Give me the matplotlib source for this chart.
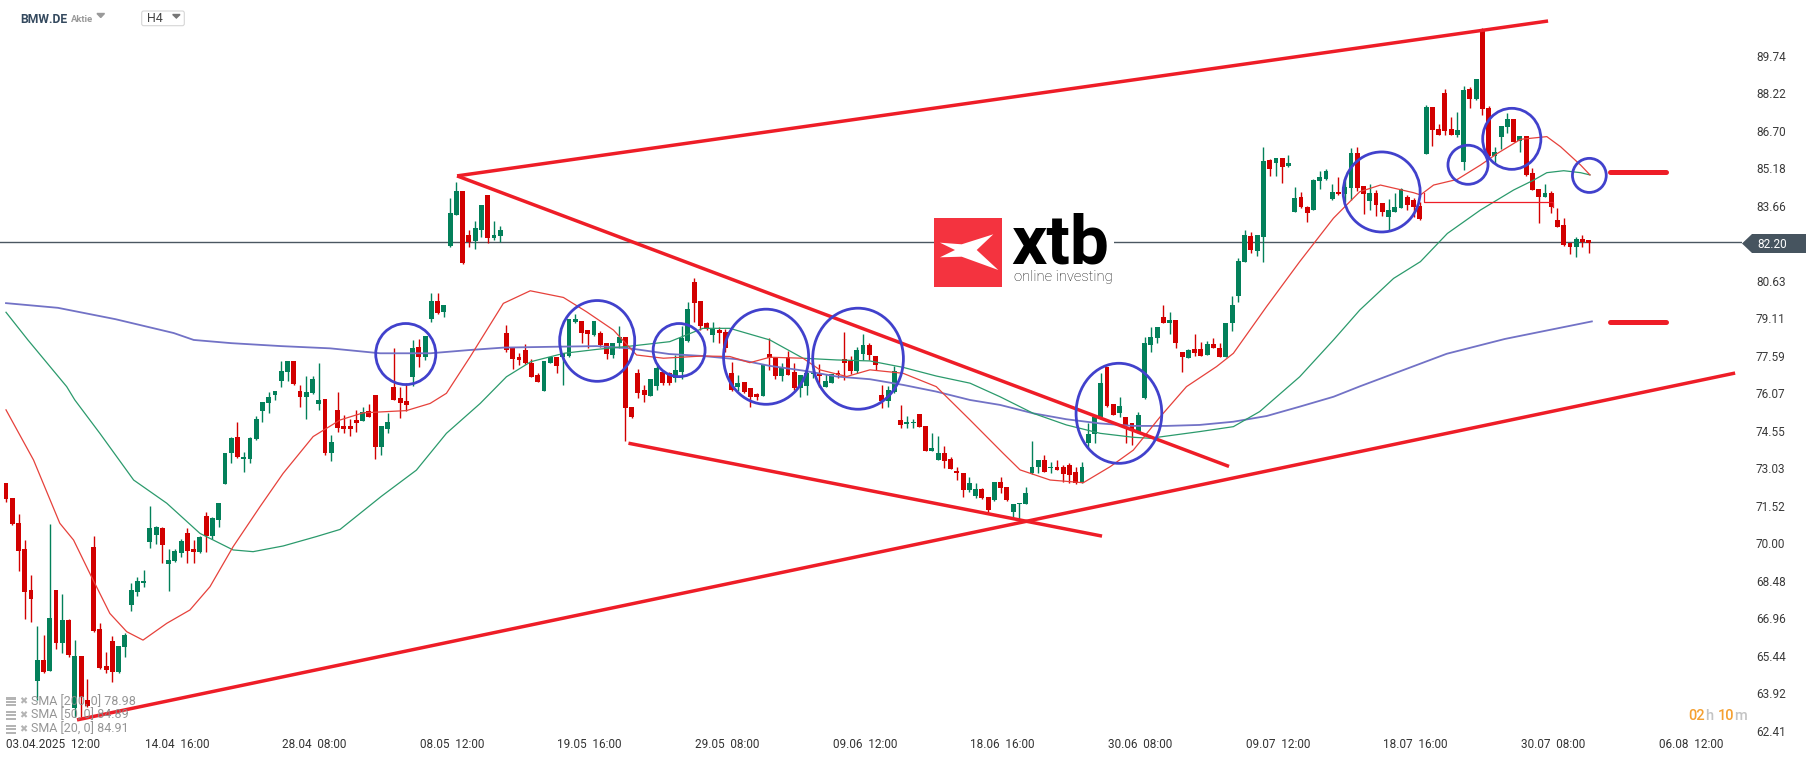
import matplotlib.pyplot as plt
import matplotlib.transforms as mtransforms
from matplotlib.patches import Ellipse, Polygon, Rectangle, FancyBboxPatch
import numpy as np

plt.rcParams['font.family'] = ['Roboto', 'DejaVu Sans']

# ---- candle data (H4 bars, BMW.DE) ----
opens = [
    72.43, 71.83, 70.84, 69.77, 68.11, 64.44, 65.27, 64.84, 68.11, 65.95,
    66.89, 63.32, 65.44, 63.66, 69.86, 66.53, 65.03, 66.04, 64.80, 65.79,
    67.50, 68.04, 68.38, 70.04, 70.33, 70.61, 69.15, 69.30, 69.62, 70.43,
    69.77, 69.65, 71.10, 70.30, 70.94, 72.40, 73.64, 74.29, 73.40, 73.43,
    74.21, 75.37, 75.67, 76.01, 76.58, 76.95, 77.39, 76.18, 75.91, 76.07,
    75.63, 75.84, 73.67, 75.40, 74.74, 74.74, 74.99, 74.96, 75.34, 76.00,
    73.91, 74.64, 76.31, 75.87, 75.76, 76.72, 77.93, 77.53, 79.06, 79.81,
    79.37, 82.03, 83.29, 84.26, 82.48, 82.25, 82.68, 84.10, 82.37, 82.44,
    78.50, 77.89, 77.53, 77.82, 77.28, 76.81, 76.18, 77.31, 77.53, 77.55,
    77.58, 78.97, 79.01, 78.63, 78.43, 78.50, 78.09, 77.62, 78.09, 78.36,
    75.50, 76.88, 76.20, 75.96, 76.37, 76.95, 76.91, 76.68, 76.95, 78.19,
    80.59, 79.81, 78.93, 78.43, 78.64, 78.56, 76.88, 76.31, 76.54, 76.27,
    76.04, 75.96, 77.66, 77.49, 76.77, 77.53, 76.95, 76.27, 76.37, 76.84,
    76.88, 76.34, 76.50, 76.88, 77.45, 77.39, 76.99, 77.66, 78.03, 77.58,
    76.00, 75.77, 76.14, 74.99, 74.83, 74.86, 75.23, 74.75, 73.75, 73.37,
    73.64, 73.40, 72.94, 72.86, 72.16, 71.91, 72.18, 71.86, 71.75, 72.50,
    72.29, 71.28, 71.57, 71.59, 72.83, 73.07, 73.37, 73.03, 73.10, 73.07,
    73.16, 72.90, 72.43, 74.04, 74.42, 75.10, 77.15, 75.64, 75.26, 75.12,
    74.85, 74.52, 75.87, 78.03, 78.30, 79.15, 78.93, 79.04, 77.76, 77.49,
    77.85, 77.85, 77.62, 78.07, 77.89, 77.55, 78.90, 80.01, 81.40, 82.44,
    81.84, 82.41, 85.52, 85.38, 85.58, 85.27, 83.42, 84.00, 83.60, 83.49,
    84.68, 84.73, 83.92, 84.23, 84.14, 84.36, 85.81, 84.46, 83.87, 84.16,
    83.76, 83.22, 83.42, 83.56, 84.03, 83.89, 83.65, 85.76, 87.64, 86.75,
    88.21, 86.75, 86.52, 85.45, 88.37, 87.97, 90.75, 87.60, 85.67, 86.43,
    86.86, 87.17, 86.30, 86.48, 84.97, 84.33, 84.03, 84.16, 83.08, 82.88,
    82.14, 82.00, 82.30, 82.27]
highs = [
    72.43, 71.85, 71.19, 70.13, 68.70, 66.65, 66.29, 70.78, 68.11, 67.95,
    66.92, 66.08, 65.44, 64.49, 70.29, 66.76, 65.60, 66.25, 65.84, 66.35,
    68.41, 68.62, 68.92, 71.51, 70.70, 70.65, 69.75, 69.75, 70.16, 70.61,
    70.13, 70.30, 71.28, 71.05, 71.62, 73.64, 74.32, 74.92, 73.71, 74.32,
    75.15, 75.72, 76.14, 76.16, 77.39, 77.39, 77.39, 76.41, 76.77, 76.77,
    77.31, 75.84, 74.38, 76.14, 75.19, 75.05, 75.39, 75.50, 75.64, 76.00,
    74.74, 75.26, 77.89, 76.31, 76.47, 78.23, 78.26, 78.39, 80.12, 80.12,
    79.64, 83.96, 84.64, 84.26, 82.68, 83.06, 83.69, 84.10, 83.06, 82.84,
    78.83, 77.89, 77.71, 78.07, 77.44, 76.91, 77.38, 77.55, 77.53, 77.71,
    79.06, 79.28, 79.01, 78.63, 79.01, 78.61, 78.09, 78.09, 78.79, 78.36,
    75.50, 77.04, 76.41, 76.64, 77.28, 77.01, 76.95, 77.62, 78.80, 79.78,
    80.75, 79.81, 78.97, 78.97, 78.77, 78.66, 77.35, 76.81, 76.54, 76.27,
    76.07, 77.22, 78.30, 77.53, 77.28, 77.80, 77.31, 76.81, 76.99, 77.10,
    77.26, 76.85, 76.84, 77.02, 78.57, 77.58, 77.96, 78.47, 78.12, 77.58,
    76.41, 76.37, 77.18, 75.60, 75.15, 75.02, 75.23, 74.75, 74.45, 74.34,
    73.94, 73.51, 73.10, 72.86, 72.70, 72.43, 72.22, 71.86, 72.50, 72.70,
    72.29, 71.59, 71.62, 72.26, 74.15, 73.37, 73.57, 73.30, 73.37, 73.16,
    73.23, 73.10, 73.30, 74.85, 75.10, 76.88, 77.15, 75.64, 75.93, 75.12,
    74.85, 75.33, 78.36, 78.74, 78.74, 79.64, 79.38, 79.04, 77.76, 77.85,
    78.47, 78.16, 78.20, 78.30, 78.09, 78.93, 80.01, 81.53, 82.66, 82.61,
    82.48, 86.06, 85.54, 85.58, 85.58, 85.72, 84.41, 84.23, 83.65, 84.73,
    85.08, 85.14, 84.54, 84.84, 84.87, 85.98, 86.02, 84.46, 84.54, 84.30,
    83.76, 83.92, 84.19, 84.36, 84.09, 83.96, 83.82, 87.74, 87.64, 86.97,
    88.37, 87.24, 87.47, 88.51, 88.45, 88.78, 90.84, 87.70, 86.05, 86.89,
    87.40, 87.17, 86.48, 86.48, 85.18, 84.33, 84.54, 84.27, 83.56, 83.15,
    82.14, 82.38, 82.48, 82.27]
lows = [
    71.68, 70.74, 68.89, 66.92, 66.83, 63.66, 64.73, 64.84, 65.71, 65.54,
    65.41, 62.98, 62.98, 63.39, 66.42, 64.90, 64.73, 64.40, 64.76, 65.41,
    67.27, 67.87, 68.22, 69.80, 69.97, 69.22, 68.08, 69.26, 69.46, 69.19,
    69.19, 69.62, 69.65, 70.19, 70.65, 72.40, 73.24, 73.44, 72.90, 73.26,
    74.18, 74.92, 75.29, 75.80, 76.31, 76.58, 76.41, 75.53, 75.02, 76.04,
    75.40, 73.57, 73.35, 74.52, 74.48, 74.34, 74.52, 74.96, 75.12, 73.40,
    73.57, 74.48, 75.80, 75.06, 75.37, 76.37, 77.15, 77.42, 78.97, 79.28,
    79.17, 81.98, 83.29, 81.30, 82.01, 81.90, 82.41, 82.17, 82.28, 82.21,
    77.76, 77.04, 77.22, 77.26, 76.72, 76.54, 76.18, 77.28, 76.91, 76.41,
    77.55, 78.90, 78.09, 77.89, 78.39, 77.96, 77.44, 77.49, 77.89, 74.15,
    75.06, 75.87, 75.73, 75.96, 76.20, 76.41, 76.41, 76.54, 76.64, 78.16,
    78.97, 78.64, 78.64, 78.16, 78.10, 77.76, 76.18, 76.18, 76.07, 75.53,
    75.80, 75.96, 77.02, 76.64, 76.58, 76.81, 76.21, 75.91, 76.00, 76.70,
    76.34, 76.34, 76.48, 76.68, 76.61, 76.85, 76.91, 77.42, 77.42, 77.02,
    75.46, 75.53, 76.10, 74.65, 74.65, 74.65, 74.69, 73.75, 73.75, 73.37,
    73.03, 72.99, 72.56, 71.89, 72.09, 71.82, 71.78, 71.28, 71.72, 72.02,
    71.72, 70.97, 70.94, 71.59, 72.80, 72.83, 72.90, 72.83, 72.97, 72.49,
    72.45, 72.40, 72.43, 73.84, 74.04, 75.02, 75.53, 75.19, 75.10, 74.07,
    73.98, 74.45, 75.83, 77.76, 78.09, 78.90, 78.47, 77.89, 76.95, 77.49,
    77.58, 77.58, 77.62, 77.89, 77.55, 77.55, 78.61, 79.78, 81.40, 81.74,
    81.63, 81.40, 84.87, 84.87, 84.57, 85.22, 83.42, 83.56, 83.02, 83.49,
    84.33, 84.71, 83.90, 84.10, 83.83, 83.89, 84.27, 83.33, 83.49, 83.24,
    83.24, 82.65, 83.42, 83.56, 83.49, 83.22, 83.08, 85.76, 86.08, 86.52,
    86.52, 86.52, 86.43, 85.11, 87.60, 87.94, 87.33, 85.65, 85.38, 85.94,
    86.62, 86.25, 85.85, 84.87, 84.30, 82.98, 84.00, 83.38, 82.81, 82.03,
    81.71, 81.57, 81.98, 81.73]
closes = [
    71.78, 70.78, 69.70, 68.04, 67.76, 65.27, 64.80, 66.99, 65.95, 66.89,
    65.48, 65.44, 63.79, 63.41, 66.46, 64.96, 64.87, 64.80, 65.84, 66.27,
    68.11, 68.46, 68.49, 70.61, 70.65, 69.94, 69.32, 69.70, 70.11, 69.70,
    69.65, 70.27, 70.30, 71.02, 71.62, 73.64, 74.25, 73.51, 73.51, 74.25,
    75.03, 75.72, 75.91, 76.16, 76.97, 77.39, 76.44, 75.91, 76.14, 76.64,
    75.80, 73.67, 74.11, 74.65, 74.64, 74.64, 74.88, 75.33, 75.12, 73.91,
    74.74, 74.91, 75.80, 75.69, 75.60, 77.89, 77.55, 78.39, 79.81, 79.33,
    79.64, 83.36, 84.26, 81.36, 82.21, 82.75, 83.69, 82.37, 82.48, 82.68,
    77.82, 77.44, 77.42, 77.28, 76.74, 76.54, 77.38, 77.55, 77.18, 77.71,
    79.06, 79.09, 78.52, 78.46, 79.01, 78.02, 77.66, 78.09, 78.36, 75.46,
    75.12, 76.10, 76.00, 76.64, 77.08, 76.47, 76.47, 77.01, 78.30, 79.47,
    79.74, 78.80, 78.66, 78.66, 78.53, 77.90, 76.21, 76.48, 76.14, 75.94,
    75.91, 77.22, 77.49, 76.77, 77.12, 76.81, 76.27, 76.81, 76.88, 76.92,
    76.77, 76.58, 76.84, 76.80, 77.31, 76.99, 77.83, 78.03, 77.62, 77.22,
    75.77, 76.21, 76.99, 74.79, 74.92, 74.92, 74.72, 73.75, 73.85, 73.64,
    73.35, 72.99, 72.83, 72.16, 72.43, 72.18, 71.82, 71.35, 72.50, 72.22,
    71.75, 71.59, 71.62, 72.02, 73.07, 73.37, 72.90, 73.10, 72.97, 72.80,
    72.76, 72.43, 73.10, 74.42, 75.10, 76.47, 75.56, 75.19, 75.56, 74.79,
    74.58, 75.19, 78.09, 78.34, 78.74, 78.90, 79.04, 78.12, 77.53, 77.82,
    77.72, 77.58, 78.07, 77.89, 77.55, 78.93, 79.64, 81.44, 82.48, 81.87,
    82.48, 85.49, 85.14, 85.58, 85.25, 85.38, 83.96, 83.60, 83.36, 84.71,
    84.81, 85.08, 84.23, 84.14, 84.41, 85.81, 84.36, 84.13, 84.16, 83.69,
    83.42, 83.49, 83.62, 84.32, 83.69, 83.62, 83.11, 87.67, 86.73, 86.52,
    86.70, 86.52, 86.73, 88.35, 87.97, 88.78, 87.56, 85.67, 85.82, 86.89,
    87.17, 86.25, 86.48, 84.91, 84.30, 84.03, 84.16, 83.60, 82.81, 82.07,
    82.00, 82.30, 82.20, 82.17]

# ---- moving averages (bar index, value) ----
sma20_idx = [0, 4.4, 8.6, 10.8, 13.4, 16.6, 19.3, 21.9, 25.7, 29.4,
             32.6, 36.3, 40.6, 44.3, 49.1, 53.4, 57.1, 64, 67.8, 70.4,
             74.2, 79.5, 83.8, 89.1, 92.8, 97.1, 100.8, 105.1, 111.4, 115.7,
             118.9, 122.1, 127.4, 130.1, 134.4, 138.1, 143.4, 148.7, 154.1, 159.4,
             162.1, 166.9, 172.2, 176.5, 180.2, 184.5, 188.7, 193.5, 196.2, 201.5,
             206.8, 212.2, 216.4, 219.7, 225, 226.1, 228.2, 232, 235.7, 238.4,
             242.1, 246.3, 248.5, 251.7, 253.2]
sma20_val = [75.40, 73.37, 70.81, 70.13, 68.78, 67.16, 66.42, 66.08, 66.76, 67.30,
             68.24, 69.86, 71.48, 72.83, 74.32, 74.99, 75.28, 75.37, 75.66, 76.07,
             77.55, 79.71, 80.22, 79.95, 79.37, 78.63, 77.62, 77.49, 77.58, 77.56,
             77.31, 77.53, 77.49, 77.02, 76.75, 77.02, 76.88, 76.34, 74.99, 73.64,
             72.97, 72.56, 72.45, 73.10, 73.77, 75.12, 76.34, 77.15, 77.69, 79.58,
             81.40, 83.16, 84.23, 84.50, 84.19, 84.10, 84.50, 84.73, 85.31, 85.78,
             86.35, 86.46, 86.05, 85.31, 84.91]

sma50_idx = [0, 3.5, 9.7, 11, 15, 20.4, 25.7, 31, 36.3,
             39.5, 44.3, 49.6, 53.4, 60, 65.6, 70.4, 75.8, 80, 83.9,
             89.2, 94.5, 99.8, 106.1, 111.4, 115.7, 122.1, 127.4, 132.8, 138.1,
             143.4, 148.7, 154.1, 158.9, 164.2, 169.5, 174.9, 180.2, 182.9, 190.8,
             196.2, 200.4, 206.8, 212.2, 216.4, 221.8, 226.1, 230.4, 235.7, 241,
             244.2, 246.3, 249, 251.7, 253.2]
sma50_val = [79.35, 78.23, 76.34, 75.80, 74.45, 72.56, 71.62, 70.40, 69.73,
             69.66, 69.89, 70.27, 70.56, 71.9, 72.96, 74.45, 75.66, 76.74, 77.35,
             77.69, 77.85, 77.98, 78.16, 78.70, 78.70, 78.23, 77.49, 77.42, 77.38,
             77.12, 76.77, 76.48, 75.93, 75.26, 74.79, 74.45, 74.29, 74.25, 74.52,
             74.72, 75.33, 76.74, 78.23, 79.44, 80.72, 81.40, 82.54, 83.49, 84.30,
             84.70, 85.00, 85.08, 85.00, 84.91]

sma200_idx = [0, 8.3, 17.5, 26.8, 30, 36, 44, 51.8, 59.8, 67.8,
              74, 79.5, 89, 94.4, 99.7, 106, 111.4, 116.8, 122.1, 127.4,
              132.8, 138.1, 143.4, 148.7, 154.1, 158.9, 164.2, 169.5, 174.9, 180.2,
              185.5, 190.8, 196.2, 201.5, 206.8, 212.2, 216.4, 230.3, 239.6, 253.5]
sma200_val = [79.72, 79.53, 79.07, 78.51, 78.23, 78.10, 77.98, 77.89, 77.69, 77.69,
              77.82, 77.92, 77.96, 77.98, 77.89, 77.66, 77.58, 77.45, 77.18, 76.99,
              76.75, 76.64, 76.41, 76.14, 75.80, 75.60, 75.26, 75.02, 74.85, 74.75,
              74.75, 74.79, 74.92, 75.15, 75.53, 75.93, 76.35, 77.67, 78.27, 78.98]

# ---- drawings on the chart: ((idx0, price0), (idx1, price1)) ----
trend_lines = [
    ((72.1, 84.87), (246.5, 91.14)),
    ((72.1, 84.87), (195.5, 73.11)),
    ((99.5, 74.05), (175.2, 70.29)),
    ((11.35, 62.85), (276.4, 76.89)),
]
level_lines = [((256.4, 85.02), (265.4, 85.02)), ((256.4, 78.96), (265.4, 78.96))]
bracket_idx = [226.6, 226.6, 247.3, 247.3]
bracket_val = [84.16, 83.80, 83.80, 83.62]
# (center idx, center price, width in bars, height in price)
circles = [
    (63.9, 77.66, 9.6, 2.47), (94.5, 78.19, 12.0, 3.27), (107.6, 77.82, 8.3, 2.15),
    (121.5, 77.55, 13.6, 3.85), (136.2, 77.47, 14.5, 4.09), (177.9, 75.26, 13.7, 4.05),
    (219.9, 84.22, 12.3, 3.24), (233.7, 85.32, 6.4, 1.58), (240.7, 86.37, 9.3, 2.47),
    (253.1, 84.89, 5.4, 1.38),
]

y_ticks = [89.74, 88.22, 86.70, 85.18, 83.66, 80.63, 79.11, 77.59, 76.07,
           74.55, 73.03, 71.52, 70.00, 68.48, 66.96, 65.44, 63.92, 62.41]
x_labels = ['03.04.2025  12:00', '14.04  16:00', '28.04  08:00', '08.05  12:00',
            '19.05  16:00', '29.05  08:00', '09.06  12:00', '18.06  16:00',
            '30.06  08:00', '09.07  12:00', '18.07  16:00', '30.07  08:00',
            '06.08  12:00']
last_price = 82.20
sma_legend = ['SMA [200, 0] 78.98', 'SMA [50, 0] 84.89', 'SMA [20, 0] 84.91']

GREEN = '#03805a'
RED = '#d20000'
LINE_RED = '#ee1d27'
CIRCLE = '#4141cc'

W, H = 1815, 761
fig = plt.figure(figsize=(W / 100, H / 100), dpi=100, facecolor='white')
ax = fig.add_axes([0, 1 - 733 / H, 1742 / W, 733 / H])
ax.set_xlim(-0.96, 277.5)
ax.set_ylim(62.32, 91.99)
for s in ax.spines.values():
    s.set_visible(False)

o = np.array(opens); h = np.array(highs); l = np.array(lows); c = np.array(closes)
x = np.arange(len(c))
cols = np.where(c >= o, GREEN, RED)
ax.vlines(x, l, h, colors=cols, lw=1.0, zorder=2)
ax.bar(x, np.maximum(np.abs(c - o), 0.05), bottom=np.minimum(o, c), width=0.78,
       color=cols, linewidth=0, zorder=2)

ax.axhline(last_price, color='#4b5761', lw=1.0, zorder=1.5)

ax.plot(sma200_idx, sma200_val, color='#7272c6', lw=1.3, zorder=3)
ax.plot(sma50_idx, sma50_val, color='#2b9a6c', lw=0.9, zorder=3)
ax.plot(sma20_idx, sma20_val, color='#e6413b', lw=0.9, zorder=3)

for (i0, p0), (i1, p1) in trend_lines:
    ax.plot([i0, i1], [p0, p1], color=LINE_RED, lw=2.5, solid_capstyle='butt', zorder=4)
for (i0, p0), (i1, p1) in level_lines:
    ax.plot([i0, i1], [p0, p1], color=LINE_RED, lw=3.6, solid_capstyle='round', zorder=4)
ax.plot(bracket_idx, bracket_val, color=LINE_RED, lw=0.9, zorder=4)
for ci, cp, cw, ch in circles:
    ax.add_patch(Ellipse((ci, cp), cw, ch, fill=False, ec=CIRCLE, lw=2.0, zorder=5))

ax.yaxis.tick_right()
ax.set_yticks(y_ticks)
ax.set_yticklabels([f'{t:.2f}' for t in y_ticks])
ax.tick_params(axis='y', length=0, pad=10, labelsize=8.5, labelcolor='#3a3a3a')
ax.set_xticks([])

trans = mtransforms.blended_transform_factory(ax.transData, fig.transFigure)
for k, lab in enumerate(x_labels):
    if k == 0:
        ax.text(0, 1 - 744 / H, lab, transform=trans, ha='left', va='center',
                fontsize=8.5, color='#333333')
    else:
        ax.text(5.3 + 22 * k, 1 - 744 / H, lab, transform=trans, ha='center',
                va='center', fontsize=8.5, color='#333333')

# ---- overlay in pixel units for the platform decorations ----
ov = fig.add_axes([0, 0, 1, 1], zorder=10)
ov.set_xlim(0, W)
ov.set_ylim(H, 0)
ov.axis('off')
ov.patch.set_alpha(0)

ov.text(20.5, 19.5, 'BMW.DE', weight='bold', fontsize=8.7, color='#34495e', va='center')
ov.text(71, 20, 'Aktie', fontsize=6.8, weight='bold', color='#9a9a9a', va='center')
ov.add_patch(Polygon([(97, 13.5), (104.5, 13.5), (100.75, 17.5)], color='#9a9a9a'))
ov.add_patch(FancyBboxPatch((141.7, 11), 42.6, 14.7, boxstyle='round,pad=0,rounding_size=2',
                            fc='white', ec='#d6d6d6', lw=0.8))
ov.text(146.7, 19, 'H4', fontsize=9, color='#444444', va='center')
ov.add_patch(Polygon([(172.7, 14.5), (180, 14.5), (176.35, 18)], color='#777777'))

# xtb logo
ov.add_patch(Rectangle((934, 214), 180, 77, fc='white', ec='none'))
ov.add_patch(Rectangle((934.3, 218.3), 67.4, 68.4, fc='#f4333f', ec='none'))
ov.add_patch(Polygon([(940, 242.7), (961.7, 244.3), (993.3, 234.3), (976.7, 250),
                      (998.3, 270), (961.7, 256.7), (940, 257.3), (955, 250)],
                     fc='white', ec='none'))
ov.text(1011, 264, 'xtb', weight='bold', fontsize=50, color='black', va='baseline')
ov.text(1014, 281, 'online investing', fontsize=10.6, weight='light', color='#111111',
        va='baseline')

# last price tag
ov.add_patch(Polygon([(1742, 243.5), (1752, 234), (1806, 234), (1806, 253), (1752, 253)],
                     fc='#46545f', ec='none'))
ov.text(1757, 244, f'{last_price:.2f}', color='white', fontsize=8.5, va='center')

# countdown
for xp, s, col in [(1688, '02', '#f5a030'), (1705, 'h', '#c4c4c4'),
                   (1718, '10', '#f5a030'), (1734, 'm', '#c4c4c4')]:
    ov.text(xp, 716, s, color=col, fontsize=10.5, weight='medium', va='center')

# indicator legend
for yy, lab in zip([701.7, 715, 729.3], sma_legend):
    for dy, hh in [(-4.5, 2.5), (-1, 2), (2.5, 2)]:
        ov.add_patch(Rectangle((6, yy + dy), 10, hh, fc='#b4b4b4', ec='none'))
    ov.text(23.5, yy, '\u2716', fontsize=7, color='#b4b4b4', ha='center', va='center',
            family=['DejaVu Sans'])
    ov.text(30.7, yy, lab, fontsize=9, color='#8a8a8a', va='center', alpha=0.9)

fig.savefig('out.png', dpi=100, facecolor='white')
